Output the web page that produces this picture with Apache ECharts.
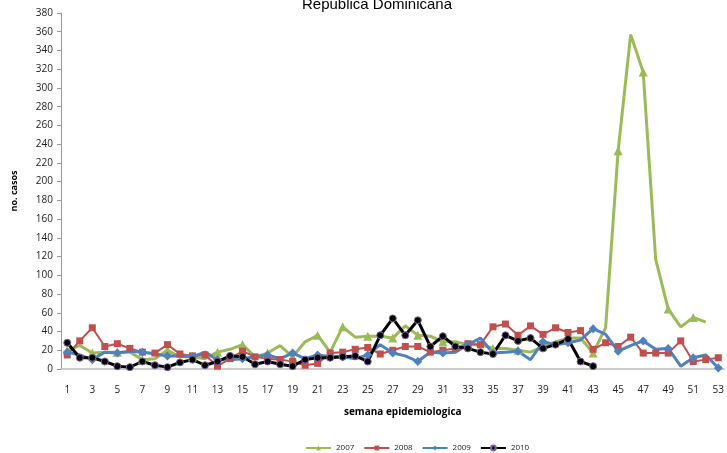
<!DOCTYPE html>
<html><head><meta charset="utf-8">
<script src="https://cdn.jsdelivr.net/npm/echarts@6/dist/echarts.min.js"></script>
<style>html,body{margin:0;padding:0;background:#fff}#c{width:727px;height:453px}</style>
</head><body><div id="c"></div>
<script>
const weeks = Array.from({length:53},(_,i)=>String(i+1));
const s2007 = [20,25,17,18,18,18,10,11,20,13,13,11,18,21,26,13,17,25,13,29,36,18,45,34,35,35,33,46,36,35,29,29,26,26,22,22,20,18,24,29,33,33,17,44,233,357,317,117,64,45,55,50,null];
const s2008 = [15,30,44,24,27,22,18,17,26,16,14,15,3,11,19,13,11,10,8,4,6,17,18,21,23,16,20,24,24,18,20,22,27,26,45,48,36,46,37,44,39,41,21,28,24,34,17,17,17,30,8,10,12];
const s2009 = [18,15,10,18,17,19,18,16,14,14,13,18,10,10,11,13,15,11,17,11,15,13,13,11,15,26,17,14,8,18,17,18,26,33,17,18,19,10,29,26,28,31,43,37,19,25,30,21,22,3,12,15,1];
const s2010 = [28,12,12,8,3,2,8,4,2,7,10,4,8,14,13,5,8,5,3,10,12,12,13,14,8,36,54,36,52,24,35,24,22,18,16,36,30,33,22,26,32,8,3,null,null,null,null,null,null,null,null,null,null];
const seriesNames = ['2007','2008','2009','2010'];
const chart = echarts.init(document.getElementById('c'));
const mk = (name, data, color, symbol, size, lw, border) => ({
  name, type:'line', data, symbol, symbolSize:size, showSymbol:true,
  lineStyle:{color, width:lw}, itemStyle:{color, borderColor:border||color, borderWidth:border?1:0},
  animation:false
});
chart.setOption({
  animation:false,
  title:{text:'Republica Dominicana', left:372, textAlign:'center', top:-8,
    textStyle:{fontFamily:'Liberation Sans', fontSize:15, fontWeight:'normal', color:'#000'}},
  grid:{left:61, right:1, top:13, bottom:84},
  xAxis:{type:'category', data:weeks, boundaryGap:true,
    name:'semana epidemiologica', nameLocation:'middle', nameGap:38,
    nameTextStyle:{fontFamily:'Open Sans', fontWeight:'bold', fontSize:10, color:'#000', padding:[0,0,0,20]},
    axisLine:{lineStyle:{color:'#bdbdbd', width:1.5}}, axisTick:{show:false},
    axisLabel:{interval:1, fontFamily:'Open Sans', fontSize:10, color:'#222', margin:16}},
  yAxis:{type:'value', min:0, max:380, interval:20,
    name:'no. casos', nameLocation:'middle', nameGap:42,
    nameTextStyle:{fontFamily:'Open Sans', fontWeight:'bold', fontSize:9, color:'#000'},
    axisLine:{show:true, lineStyle:{color:'#9a9a9a'}}, axisTick:{show:true, length:4, lineStyle:{color:'#9a9a9a'}},
    splitLine:{show:false},
    axisLabel:{fontFamily:'Open Sans', fontSize:10, color:'#222', margin:8}},
  legend:{data:seriesNames, top:439, left:300, itemWidth:25, itemHeight:6, itemGap:9,
    textStyle:{fontFamily:'Open Sans', fontSize:8, color:'#222'}},
  series:[
    mk(seriesNames[0], s2007, '#9bbb59', 'triangle', 9, 3),
    mk(seriesNames[1], s2008, '#c0504d', 'rect', 7, 2),
    mk(seriesNames[2], s2009, '#4f81bd', 'diamond', 9, 3),
    mk(seriesNames[3], s2010, '#000000', 'circle', 7, 3, '#7d5fa0')
  ]
});
</script></body></html>
